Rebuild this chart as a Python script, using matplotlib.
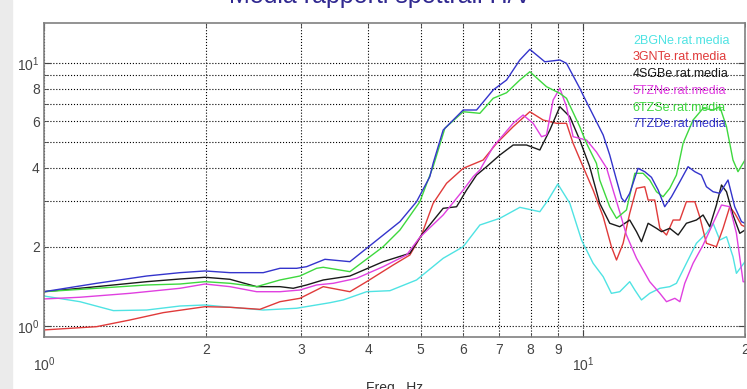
import matplotlib
matplotlib.use('Agg')
import matplotlib.pyplot as plt
from matplotlib.ticker import FixedLocator, FixedFormatter
from matplotlib.patches import Rectangle

plt.rcParams['font.family'] = ['Liberation Sans', 'DejaVu Sans']
plt.rcParams['mathtext.default'] = 'regular'

# H/V rapporti medi per stazione
f_bgn = [1.0, 1.166, 1.345, 1.551, 1.788, 1.99, 2.214, 2.552, 2.944, 3.394, 3.592, 3.97, 4.385,
         4.914, 5.506, 5.998, 6.441, 7.015, 7.641, 8.322, 8.622, 8.987, 9.461, 9.945, 10.45,
         10.91, 11.30, 11.71, 12.22, 12.49, 12.85, 13.31, 13.90, 14.50, 14.92, 15.57, 16.25,
         16.96, 17.45, 17.96, 18.48, 19.0, 19.28, 20.0]
a_bgn = [1.30, 1.237, 1.144, 1.15, 1.191, 1.202, 1.178, 1.15, 1.168, 1.226, 1.256, 1.35, 1.362,
         1.496, 1.809, 2.002, 2.421, 2.567, 2.826, 2.72, 3.013, 3.467, 2.927, 2.123, 1.732,
         1.54, 1.331, 1.35, 1.474, 1.37, 1.256, 1.331, 1.391, 1.411, 1.453, 1.732, 2.063,
         2.251, 2.458, 2.123, 2.185, 1.834, 1.586, 1.756]

f_gnt = [1.0, 1.252, 1.444, 1.665, 1.99, 2.214, 2.516, 2.741, 2.985, 3.298, 3.696, 3.97, 4.448,
         4.776, 5.02, 5.275, 5.586, 5.998, 6.532, 6.918, 7.426, 7.975, 8.44, 8.938, 9.327,
         9.594, 10.01, 10.45, 10.91, 11.30, 11.55, 11.88, 12.22, 12.58, 13.03, 13.22, 13.60,
         13.90, 14.30, 14.71, 15.14, 15.57, 16.14, 16.48, 16.96, 17.70, 18.21, 18.74, 19.14,
         19.70, 20.0]
a_gnt = [0.966, 0.994, 1.054, 1.124, 1.184, 1.178, 1.157, 1.237, 1.274, 1.411, 1.35, 1.474, 1.706,
         1.862, 2.218, 2.927, 3.488, 3.977, 4.277, 4.951, 5.725, 6.529, 6.071, 5.898, 5.898,
         4.951, 4.034, 3.289, 2.604, 2.002, 1.782, 2.063, 2.683, 3.338, 3.385, 3.013, 3.013,
         2.352, 2.218, 2.529, 2.529, 2.969, 2.969, 2.604, 2.063, 2.002, 2.352, 2.841, 2.683,
         2.421, 2.385]

f_sgb = [1.0, 1.252, 1.551, 1.788, 1.99, 2.214, 2.481, 2.741, 2.901, 3.072, 3.298, 3.696, 4.261,
         4.776, 5.02, 5.506, 5.831, 6.085, 6.351, 6.628, 7.015, 7.426, 7.862, 8.322, 8.686,
         9.066, 9.461, 9.872, 10.30, 10.75, 11.22, 11.71, 12.22, 12.58, 12.85, 13.22, 13.70,
         14.0, 14.5, 15.03, 15.57, 16.25, 16.72, 17.20, 17.70, 18.09, 18.48, 19.0, 19.56, 20.0]
a_sgb = [1.35, 1.411, 1.474, 1.509, 1.532, 1.505, 1.411, 1.411, 1.391, 1.432, 1.496, 1.549, 1.756,
         1.89, 2.218, 2.802, 2.841, 3.289, 3.75, 4.034, 4.468, 4.878, 4.878, 4.669, 5.562,
         6.822, 6.249, 5.096, 4.034, 2.927, 2.458, 2.385, 2.529, 2.283, 2.092, 2.458, 2.352,
         2.283, 2.352, 2.218, 2.458, 2.529, 2.643, 2.385, 2.884, 3.436, 3.24, 2.643, 2.251, 2.317]

f_tzn = [1.0, 1.166, 1.444, 1.788, 1.99, 2.214, 2.481, 2.741, 2.985, 3.206, 3.442, 3.803, 4.261,
         4.709, 4.984, 5.506, 5.998, 6.259, 6.441, 6.818, 7.426, 7.749, 8.088, 8.383, 8.563,
         8.809, 9.066, 9.327, 9.594, 10.16, 10.60, 11.07, 11.38, 11.71, 12.05, 12.58, 13.31,
         13.90, 14.30, 14.82, 15.14, 15.46, 16.02, 16.72, 17.45, 18.09, 18.74, 19.28, 19.84, 20.0]
a_tzn = [1.267, 1.286, 1.331, 1.391, 1.444, 1.411, 1.35, 1.35, 1.37, 1.432, 1.453, 1.518, 1.681,
         1.862, 2.174, 2.643, 3.289, 3.696, 3.919, 4.805, 5.898, 6.343, 5.898, 5.246, 5.324,
         7.233, 8.017, 6.822, 5.246, 5.096, 4.588, 3.988, 3.289, 2.713, 2.218, 1.809, 1.474,
         1.331, 1.237, 1.274, 1.237, 1.453, 1.732, 2.032, 2.458, 2.884, 2.841, 2.251, 1.474, 1.47]

f_tzs = [1.0, 1.252, 1.551, 1.788, 1.99, 2.214, 2.481, 2.741, 2.985, 3.206, 3.298, 3.696, 4.261,
         4.577, 4.984, 5.275, 5.546, 5.998, 6.441, 6.818, 7.219, 7.641, 7.975, 8.563, 9.066,
         9.327, 9.872, 10.16, 10.60, 10.75, 11.22, 11.55, 12.05, 12.49, 12.94, 13.31, 13.70,
         14.09, 14.50, 14.92, 15.35, 16.02, 16.72, 17.45, 17.96, 18.48, 19.0, 19.41, 20.0]
a_tzs = [1.35, 1.391, 1.432, 1.444, 1.474, 1.453, 1.411, 1.496, 1.549, 1.657, 1.672, 1.609, 2.002,
         2.317, 2.969, 4.034, 5.645, 6.529, 6.438, 7.342, 7.709, 8.618, 9.265, 8.128, 7.668,
         7.342, 5.725, 4.951, 4.155, 3.59, 2.841, 2.567, 2.761, 3.807, 3.807, 3.59, 3.24,
         3.101, 3.338, 3.75, 4.951, 6.071, 6.726, 6.628, 6.822, 5.725, 4.277, 3.861, 4.277]

f_tzd = [1.0, 1.252, 1.551, 1.788, 1.99, 2.214, 2.552, 2.741, 2.944, 3.072, 3.322, 3.696, 3.97,
         4.577, 4.914, 5.201, 5.275, 5.506, 5.666, 5.998, 6.351, 6.818, 7.219, 7.641, 7.975,
         8.502, 9.066, 9.327, 9.872, 10.01, 10.45, 10.91, 11.22, 11.55, 11.80, 11.96, 12.22,
         12.66, 13.03, 13.41, 13.80, 14.19, 14.61, 15.14, 15.68, 16.14, 16.60, 16.96, 17.45,
         17.96, 18.60, 19.14, 19.70, 20.0]
a_tzd = [1.35, 1.453, 1.549, 1.595, 1.619, 1.595, 1.595, 1.657, 1.657, 1.681, 1.793, 1.756, 1.974,
         2.493, 2.969, 3.696, 4.155, 5.562, 5.898, 6.628, 6.628, 7.898, 8.618, 10.27, 11.27,
         10.11, 10.27, 9.97, 8.017, 7.556, 6.343, 5.324, 4.468, 3.59, 3.067, 2.962, 3.195,
         3.977, 3.861, 3.676, 3.289, 2.841, 3.101, 3.537, 4.034, 3.861, 3.75, 3.385, 3.24,
         3.195, 3.59, 2.841, 2.493, 2.458]

nomi = ['2BGNe.rat.media', '3GNTe.rat.media', '4SGBe.rat.media',
        '5TZNe.rat.media', '6TZSe.rat.media', '7TZDe.rat.media']
colori = ['#4fe3e3', '#e03a3a', '#1a1a1a', '#e040e0', '#3ed83e', '#3434cc']

fig = plt.figure(figsize=(7.47, 3.89), dpi=100)
fig.patches.append(Rectangle((0, 0), 12 / 747, 1, transform=fig.transFigure,
                             color='#ebebeb', zorder=0))
ax = fig.add_axes([44 / 747, 1 - 337 / 389, 701 / 747, 314.5 / 389])

serie = [(f_bgn, a_bgn), (f_gnt, a_gnt), (f_sgb, a_sgb),
         (f_tzn, a_tzn), (f_tzs, a_tzs), (f_tzd, a_tzd)]
for (ff, aa), c in zip(serie, colori):
    ax.plot(ff, aa, color=c, lw=1.0)

ax.set_xscale('log')
ax.set_yscale('log')
ax.set_xlim(1, 20)
ax.set_ylim(0.908, 14.26)

# assi in stile matlab
ax.xaxis.set_major_locator(FixedLocator([1, 10]))
ax.xaxis.set_major_formatter(FixedFormatter(['$10^{0}$', '$10^{1}$']))
xmin = [2, 3, 4, 5, 6, 7, 8, 9, 20]
ax.xaxis.set_minor_locator(FixedLocator(xmin))
ax.xaxis.set_minor_formatter(FixedFormatter(['2', '3', '4', '5', '6', '7', '8', '9', '2']))
ax.yaxis.set_major_locator(FixedLocator([1, 10]))
ax.yaxis.set_major_formatter(FixedFormatter(['$10^{0}$', '$10^{1}$']))
ax.yaxis.set_minor_locator(FixedLocator([2, 3, 4, 5, 6, 7, 8, 9]))
ax.yaxis.set_minor_formatter(FixedFormatter(['2', '', '4', '', '6', '', '8', '']))

ax.tick_params(which='both', direction='in', top=True, right=True,
               colors='#444444', labelsize=10)
ax.tick_params(which='major', length=5)
ax.tick_params(which='minor', length=3)
ax.tick_params(axis='x', which='minor', pad=4)
ax.tick_params(axis='x', which='major', pad=13)
ax.tick_params(axis='y', which='both', pad=3)

ax.grid(True, which='both', linestyle=':', color='k', lw=0.8)
for s in ax.spines.values():
    s.set_color('#808080')
    s.set_linewidth(1.2)

for i, (n, c) in enumerate(zip(nomi, colori)):
    ax.text(0.840, 0.942 - i * 0.0531, n, color=c, fontsize=9,
            transform=ax.transAxes, va='center', ha='left')

# titolo tagliato in alto come nell'originale
fig.text(380 / 747, 1 - 3.5 / 389, 'Media rapporti spettrali H/V', ha='center',
         va='baseline', fontsize=18, color='#302890')
fig.text(395 / 747, 1 - 381 / 389, 'Freq , Hz', ha='center', va='top',
         fontsize=10, color='#333333')

plt.savefig('out.png', dpi=100)
